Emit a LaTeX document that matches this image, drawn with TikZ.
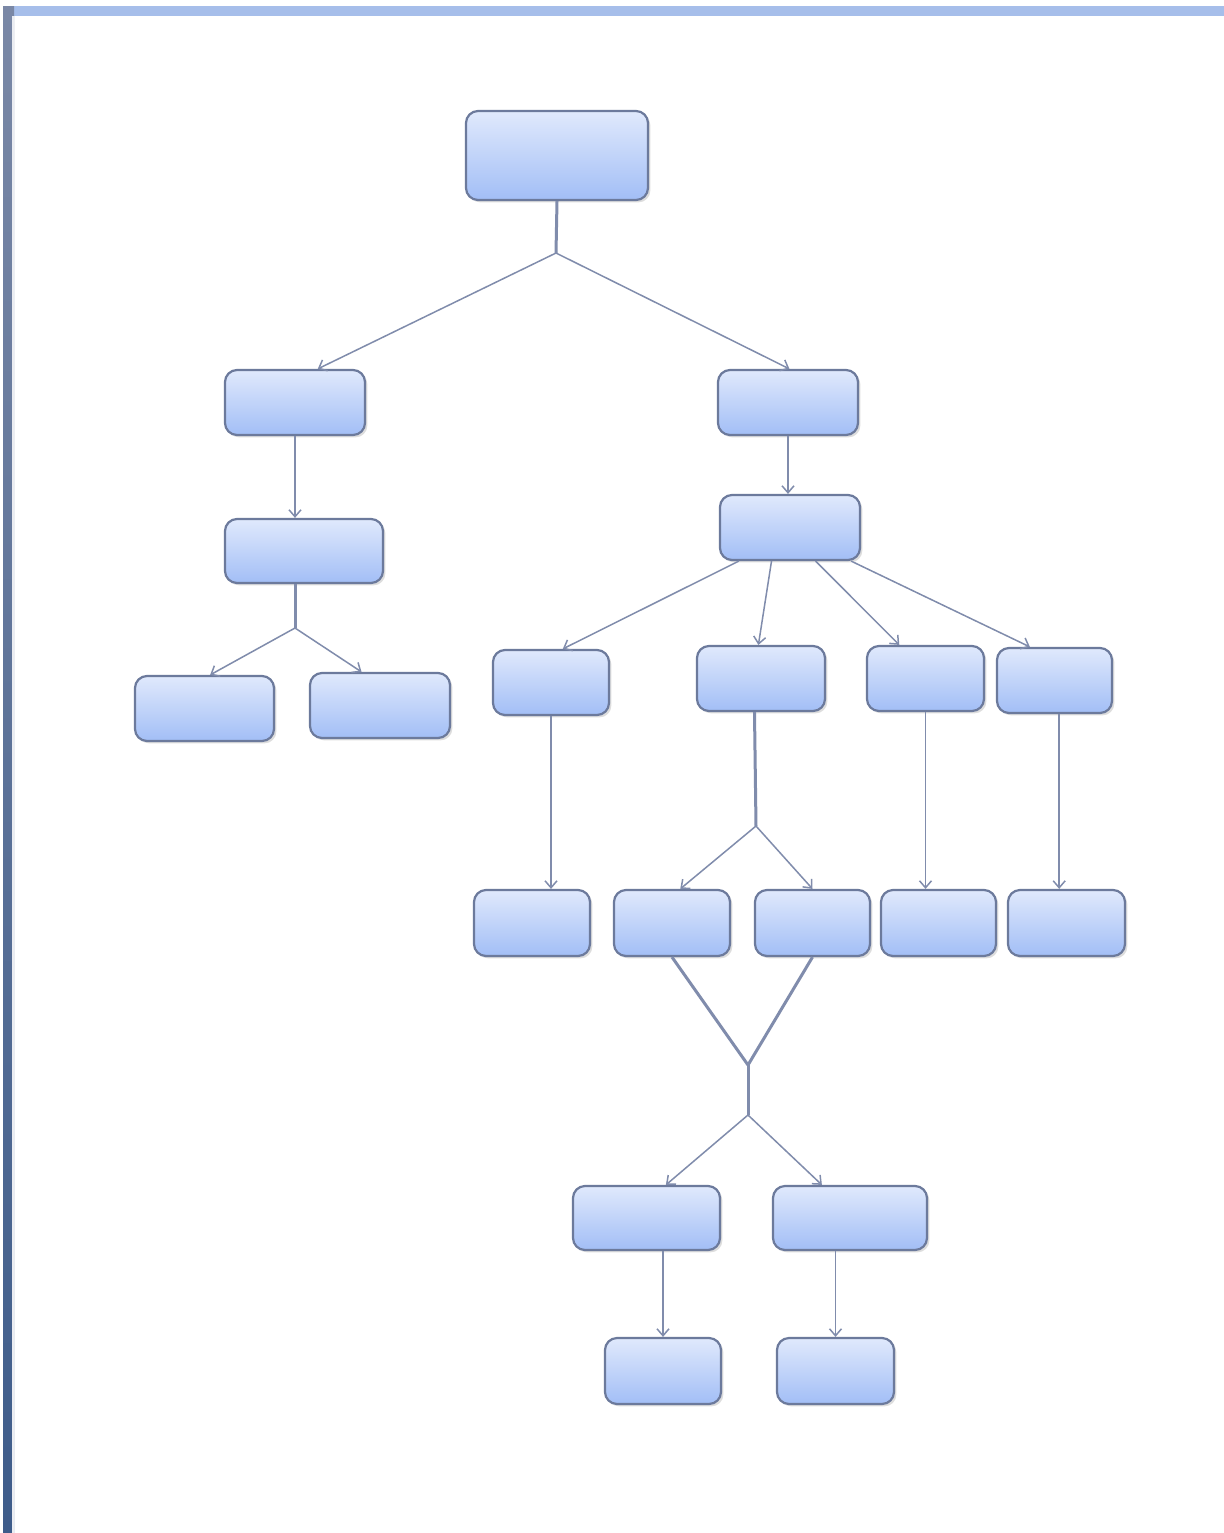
\documentclass[tikz,border=0pt]{standalone}
\usetikzlibrary{arrows.meta,shadows,calc}
\definecolor{linec}{RGB}{128,140,172}
\definecolor{boxborder}{RGB}{108,122,156}
\definecolor{boxtop}{RGB}{224,233,252}
\definecolor{boxbot}{RGB}{162,190,246}
\definecolor{topbar}{RGB}{166,190,234}
\definecolor{sidetop}{RGB}{122,136,166}
\definecolor{sidebot}{RGB}{62,92,138}
\tikzset{
  box/.style={draw=boxborder, line width=1.1pt, rounded corners=6pt,
    top color=boxtop, bottom color=boxbot, inner sep=0pt,
    drop shadow={shadow xshift=1.2pt, shadow yshift=-1.2pt, opacity=0.22, fill=black!60}},
  conn/.style={draw=linec, line width=0.75pt},
  stem/.style={draw=linec, line width=1.5pt},
  arr/.style={conn, -{Straight Barb[length=3.5pt,width=6pt]}},
}
\begin{document}
\begin{tikzpicture}[x=0.5pt,y=-0.5pt]
\useasboundingbox (0,0) rectangle (1224,1533);
\fill[white] (0,0) rectangle (1224,1533);
% frame bars
\fill[topbar] (3,6) rectangle (1224,16);
\shade[top color=sidetop, bottom color=sidebot] (3,6) rectangle (14,1533);
\fill[white!85!sidetop] (12,16) rectangle (14,1533);

% nodes
\node[box, minimum width=91pt, minimum height=44.5pt] (root) at (557,155.5) {};
\node[box, minimum width=70pt, minimum height=32.5pt] (L1) at (295,402.5) {};
\node[box, minimum width=70pt, minimum height=32.5pt] (R1) at (788,402.5) {};
\node[box, minimum width=79pt, minimum height=32pt] (L2) at (304,551) {};
\node[box, minimum width=70pt, minimum height=32.5pt] (R2) at (790,527.5) {};
\node[box, minimum width=69.5pt, minimum height=32.5pt] (LL) at (204.5,708.5) {};
\node[box, minimum width=70pt, minimum height=32.5pt] (LR) at (380,705.5) {};
\node[box, minimum width=58pt, minimum height=32.5pt] (R3a) at (551,682.5) {};
\node[box, minimum width=64pt, minimum height=32.5pt] (R3b) at (761,678.5) {};
\node[box, minimum width=58.5pt, minimum height=32.5pt] (R3c) at (925.5,678.5) {};
\node[box, minimum width=57.5pt, minimum height=32.5pt] (R3d) at (1054.5,680.5) {};
\node[box, minimum width=58pt, minimum height=33pt] (R4a) at (532,923) {};
\node[box, minimum width=58pt, minimum height=33pt] (R4b) at (672,923) {};
\node[box, minimum width=57.5pt, minimum height=33pt] (R4c) at (812.5,923) {};
\node[box, minimum width=57.5pt, minimum height=33pt] (R4d) at (938.5,923) {};
\node[box, minimum width=58.5pt, minimum height=33pt] (R4e) at (1066.5,923) {};
\node[box, minimum width=73.5pt, minimum height=32pt] (R5a) at (646.5,1218) {};
\node[box, minimum width=77pt, minimum height=32pt] (R5b) at (850,1218) {};
\node[box, minimum width=58pt, minimum height=33pt] (R6a) at (663,1371) {};
\node[box, minimum width=58.5pt, minimum height=33pt] (R6b) at (835.5,1371) {};

% junctions
\coordinate (j1) at (556,253);
\coordinate (j2) at (295,628);
\coordinate (j3) at (756,826);
\coordinate (j5) at (748,1065);
\coordinate (j6) at (748,1115);
\coordinate (d3) at ($(R3d.south west)!0.54!(R3d.south east)$);

% root split
\draw[stem] (root.south) -- (j1);
\draw[arr] (j1) -- ($(L1.north west)!0.66!(L1.north east)$);
\draw[arr] (j1) -- ($(R1.north west)!0.51!(R1.north east)$);
% left branch
\draw[arr] (L1.south) -- (L1.south |- L2.north);
\draw[stem] (L2.south -| j2) -- (j2);
\draw[arr] (j2) -- ($(LL.north west)!0.54!(LL.north east)$);
\draw[arr] (j2) -- ($(LR.north west)!0.37!(LR.north east)$);
% right branch
\draw[arr] (R1.south) -- (R1.south |- R2.north);
\draw[arr] ($(R2.south west)!0.14!(R2.south east)$) -- ($(R3a.north west)!0.6!(R3a.north east)$);
\draw[arr] ($(R2.south west)!0.37!(R2.south east)$) -- ($(R3b.north west)!0.48!(R3b.north east)$);
\draw[arr] ($(R2.south west)!0.68!(R2.south east)$) -- ($(R3c.north west)!0.28!(R3c.north east)$);
\draw[arr] ($(R2.south west)!0.93!(R2.south east)$) -- ($(R3d.north west)!0.29!(R3d.north east)$);
% level 3 to 4
\draw[arr] (R3a.south) -- (R3a.south |- R4a.north);
\draw[stem] ($(R3b.south west)!0.45!(R3b.south east)$) -- (j3);
\draw[arr] (j3) -- ($(R4b.north west)!0.57!(R4b.north east)$);
\draw[arr] (j3) -- ($(R4c.north west)!0.5!(R4c.north east)$);
\draw[arr] (R3c.south) -- (R3c.south |- R4d.north);
\draw[arr] (d3) -- (d3 |- R4e.north);
% merge
\draw[stem] (R4b.south) -- (j5);
\draw[stem] (R4c.south) -- (j5);
\draw[stem] (j5) -- (j6);
\draw[arr] (j6) -- ($(R5a.north west)!0.63!(R5a.north east)$);
\draw[arr] (j6) -- ($(R5b.north west)!0.32!(R5b.north east)$);
% bottom
\draw[arr] (R6a.north |- R5a.south) -- (R6a.north);
\draw[arr] (R6b.north |- R5b.south) -- (R6b.north);
\end{tikzpicture}
\end{document}
